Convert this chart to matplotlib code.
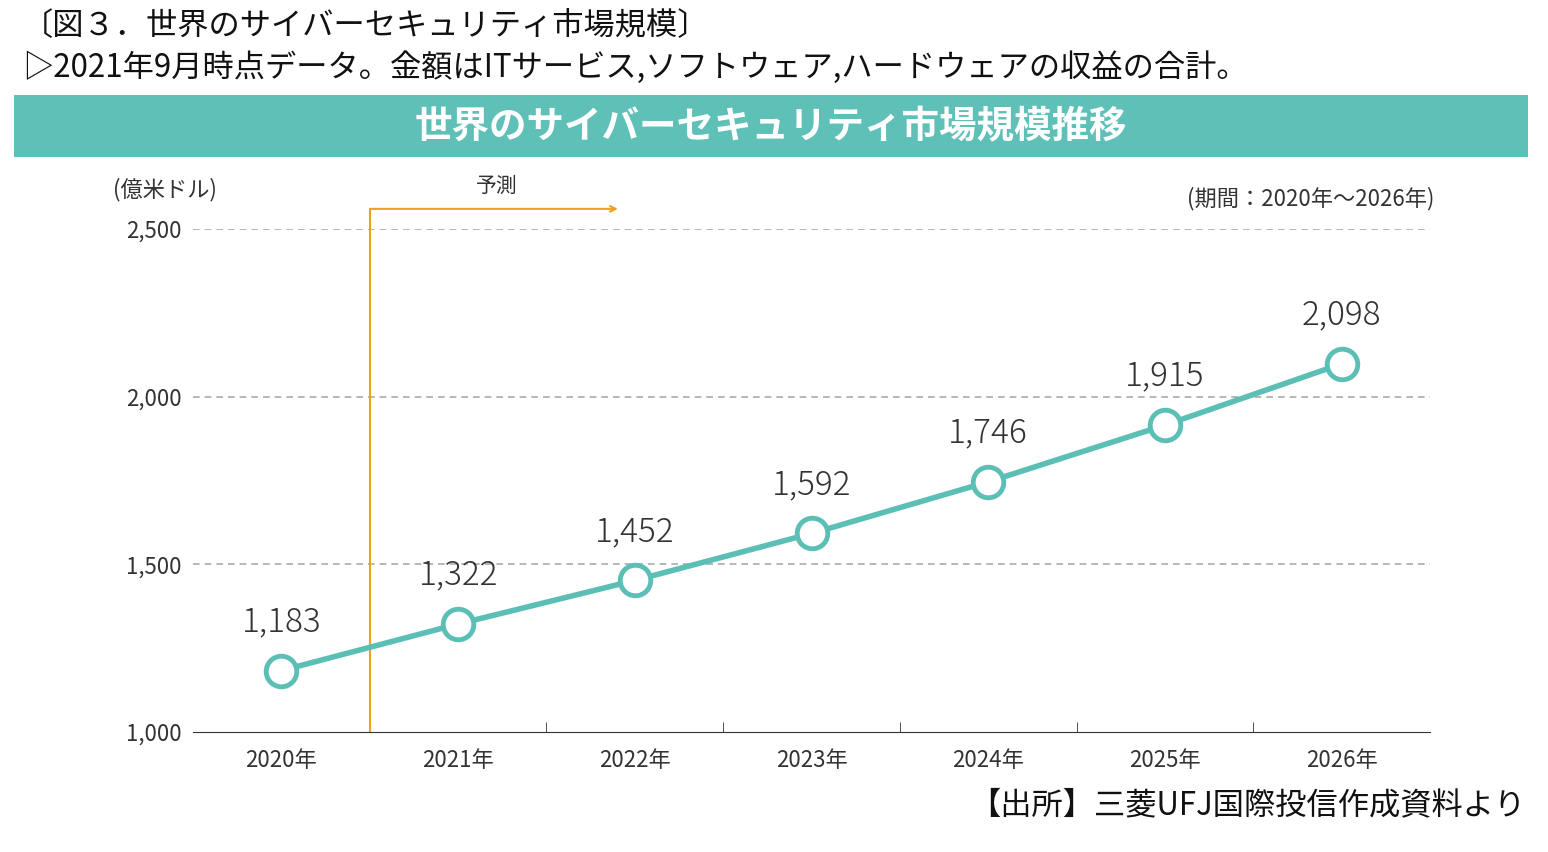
import matplotlib
matplotlib.use("Agg")
import matplotlib.pyplot as plt
from matplotlib.patches import Rectangle

plt.rcParams['font.family'] = ['Noto Sans CJK JP', 'DejaVu Sans']

years = ["2020年", "2021年", "2022年", "2023年", "2024年", "2025年", "2026年"]
values = [1183, 1322, 1452, 1592, 1746, 1915, 2098]
yticks = [1000, 1500, 2000, 2500]
ytick_labels = ["1,000", "1,500", "2,000", "2,500"]

W, H = 1548, 852
fig = plt.figure(figsize=(W/100, H/100), dpi=100)
fig.patch.set_facecolor("white")

def fx(px): return px / W
def fy(py): return 1 - py / H

fig.text(fx(22), fy(26), "〔図３．世界のサイバーセキュリティ市場規模〕", fontsize=22.5, va="center", ha="left", color="#111")
fig.text(fx(22), fy(68), "▷2021年9月時点データ。金額はITサービス,ソフトウェア,ハードウェアの収益の合計。",
         fontsize=22.5, va="center", ha="left", color="#111")

fig.patches.append(Rectangle((fx(14), fy(157)), fx(1528-14), (157-95)/H, transform=fig.transFigure,
                             facecolor="#5fc0b8", edgecolor="none", zorder=0))
fig.text(fx(771), fy(127), "世界のサイバーセキュリティ市場規模推移", fontsize=27, fontweight="bold",
         color="white", ha="center", va="center")

ax = fig.add_axes([fx(193), fy(732), fx(1430-193), (732-229)/H])
ax.set_xlim(-0.5, 6.5)
ax.set_ylim(1000, 2500)
x = list(range(len(years)))
teal = "#5bbfb6"
ax.plot(x, values, color=teal, lw=4, marker="o", ms=22, mfc="white", mec=teal, mew=3.5, zorder=5, clip_on=False)
for xi, v in zip(x, values):
    ax.text(xi, v + 145, f"{v:,}", ha="center", va="center", fontsize=24, color="#333", fontweight="light")

for y in [1500, 2000, 2500]:
    ax.axhline(y, color="#aaaaaa", lw=1.2, ls=(0, (4, 3)), zorder=1)

for s in ["top", "right", "left"]:
    ax.spines[s].set_visible(False)
ax.spines["bottom"].set_color("#333")
ax.set_yticks(yticks)
ax.set_yticklabels(ytick_labels, fontsize=16, color="#333")
ax.tick_params(axis="y", length=0, pad=8)
ax.set_xticks(x)
ax.set_xticklabels(years, fontsize=16, color="#333")
ax.set_xticks([i + 0.5 for i in range(6)], minor=True)
ax.tick_params(axis="x", which="major", length=0, pad=12)
ax.tick_params(axis="x", which="minor", length=7, direction="in", color="#333")
ax.patch.set_alpha(0)

orange = "#f0a020"
ax.plot([0.5, 0.5], [1000, 2560], color=orange, lw=1.5, clip_on=False)
ax.annotate("", xy=(1.92, 2560), xytext=(0.49, 2560), annotation_clip=False,
            arrowprops=dict(arrowstyle="->", color=orange, lw=1.5))
ax.text(1.22, 2630, "予測", ha="center", va="center", fontsize=15, color="#333")

fig.text(fx(113), fy(190), "(億米ドル)", fontsize=16, color="#333", ha="left", va="center")
fig.text(fx(1434), fy(199), "(期間：2020年～2026年)", fontsize=16, color="#333", ha="right", va="center")
fig.text(fx(1525), fy(805), "【出所】三菱UFJ国際投信作成資料より", fontsize=22.5, color="#111", ha="right", va="center")

fig.savefig("out.png", dpi=100)
